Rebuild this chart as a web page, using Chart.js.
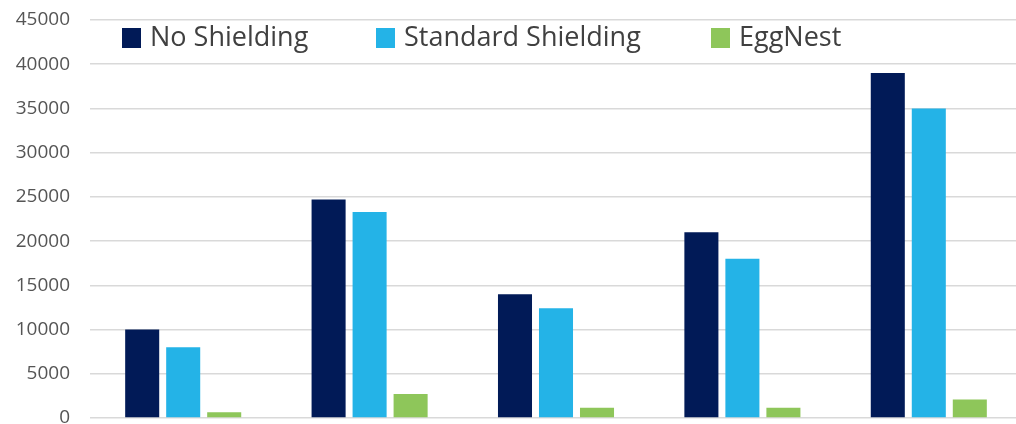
<!DOCTYPE html>
<html>
<head>
<meta charset="utf-8">
<script src="https://cdn.jsdelivr.net/npm/chart.js@4"></script>
<style>
  html, body { margin: 0; padding: 0; background: #fff; overflow: hidden; }
  #wrap { position: relative; width: 1022px; height: 424px; }
</style>
</head>
<body>
<div id="wrap"><canvas id="c"></canvas></div>
<script>
const categories = ["1", "2", "3", "4", "5"];
const seriesNames = ["No Shielding", "Standard Shielding", "EggNest"];
const noShielding = [10000, 24700, 14000, 21000, 39000];
const standardShielding = [8000, 23300, 12400, 18000, 35000];
const eggNest = [650, 2700, 1150, 1150, 2100];
const yTicks = [0, 5000, 10000, 15000, 20000, 25000, 30000, 35000, 40000, 45000];

const colors = ["#011a57", "#24b3e7", "#8ec65a"];
const legendX = [122, 376, 711];

const legendPlugin = {
  id: 'insideLegend',
  afterDraw(chart) {
    const ctx = chart.ctx;
    ctx.save();
    ctx.font = '27px "Open Sans"';
    ctx.textBaseline = 'middle';
    chart.data.datasets.forEach((ds, i) => {
      const x = legendX[i];
      const y = 38;
      ctx.fillStyle = ds.backgroundColor;
      ctx.fillRect(x, y - 10, 19, 20);
      ctx.fillStyle = '#404040';
      ctx.fillText(ds.label, x + 28, y);
    });
    ctx.restore();
  }
};

new Chart(document.getElementById('c'), {
  type: 'bar',
  data: {
    labels: categories,
    datasets: [
      { label: seriesNames[0], data: noShielding, backgroundColor: colors[0] },
      { label: seriesNames[1], data: standardShielding, backgroundColor: colors[1] },
      { label: seriesNames[2], data: eggNest, backgroundColor: colors[2] }
    ]
  },
  options: {
    responsive: true,
    maintainAspectRatio: false,
    animation: false,
    layout: { autoPadding: false, padding: { top: 20, left: 0, right: 0, bottom: 6 } },
    datasets: { bar: { categoryPercentage: 0.66, barPercentage: 0.83 } },
    plugins: { legend: { display: false }, tooltip: { enabled: false } },
    scales: {
      x: { display: false, grid: { display: false } },
      y: {
        min: 0, max: 45000,
        afterFit(scale) {
          scale.width = 90;
          scale.paddingTop = 0;
          scale.paddingBottom = 0;
        },
        afterBuildTicks(scale) { scale.ticks = yTicks.map(v => ({ value: v })); },
        border: { display: false },
        grid: { color: '#d9d9d9', lineWidth: 1.5, drawTicks: false },
        ticks: {
          padding: 20,
          color: '#555555',
          font: { family: '"Open Sans"', size: 19 },
          callback: v => String(v)
        }
      }
    }
  },
  plugins: [legendPlugin]
});
</script>
</body>
</html>
